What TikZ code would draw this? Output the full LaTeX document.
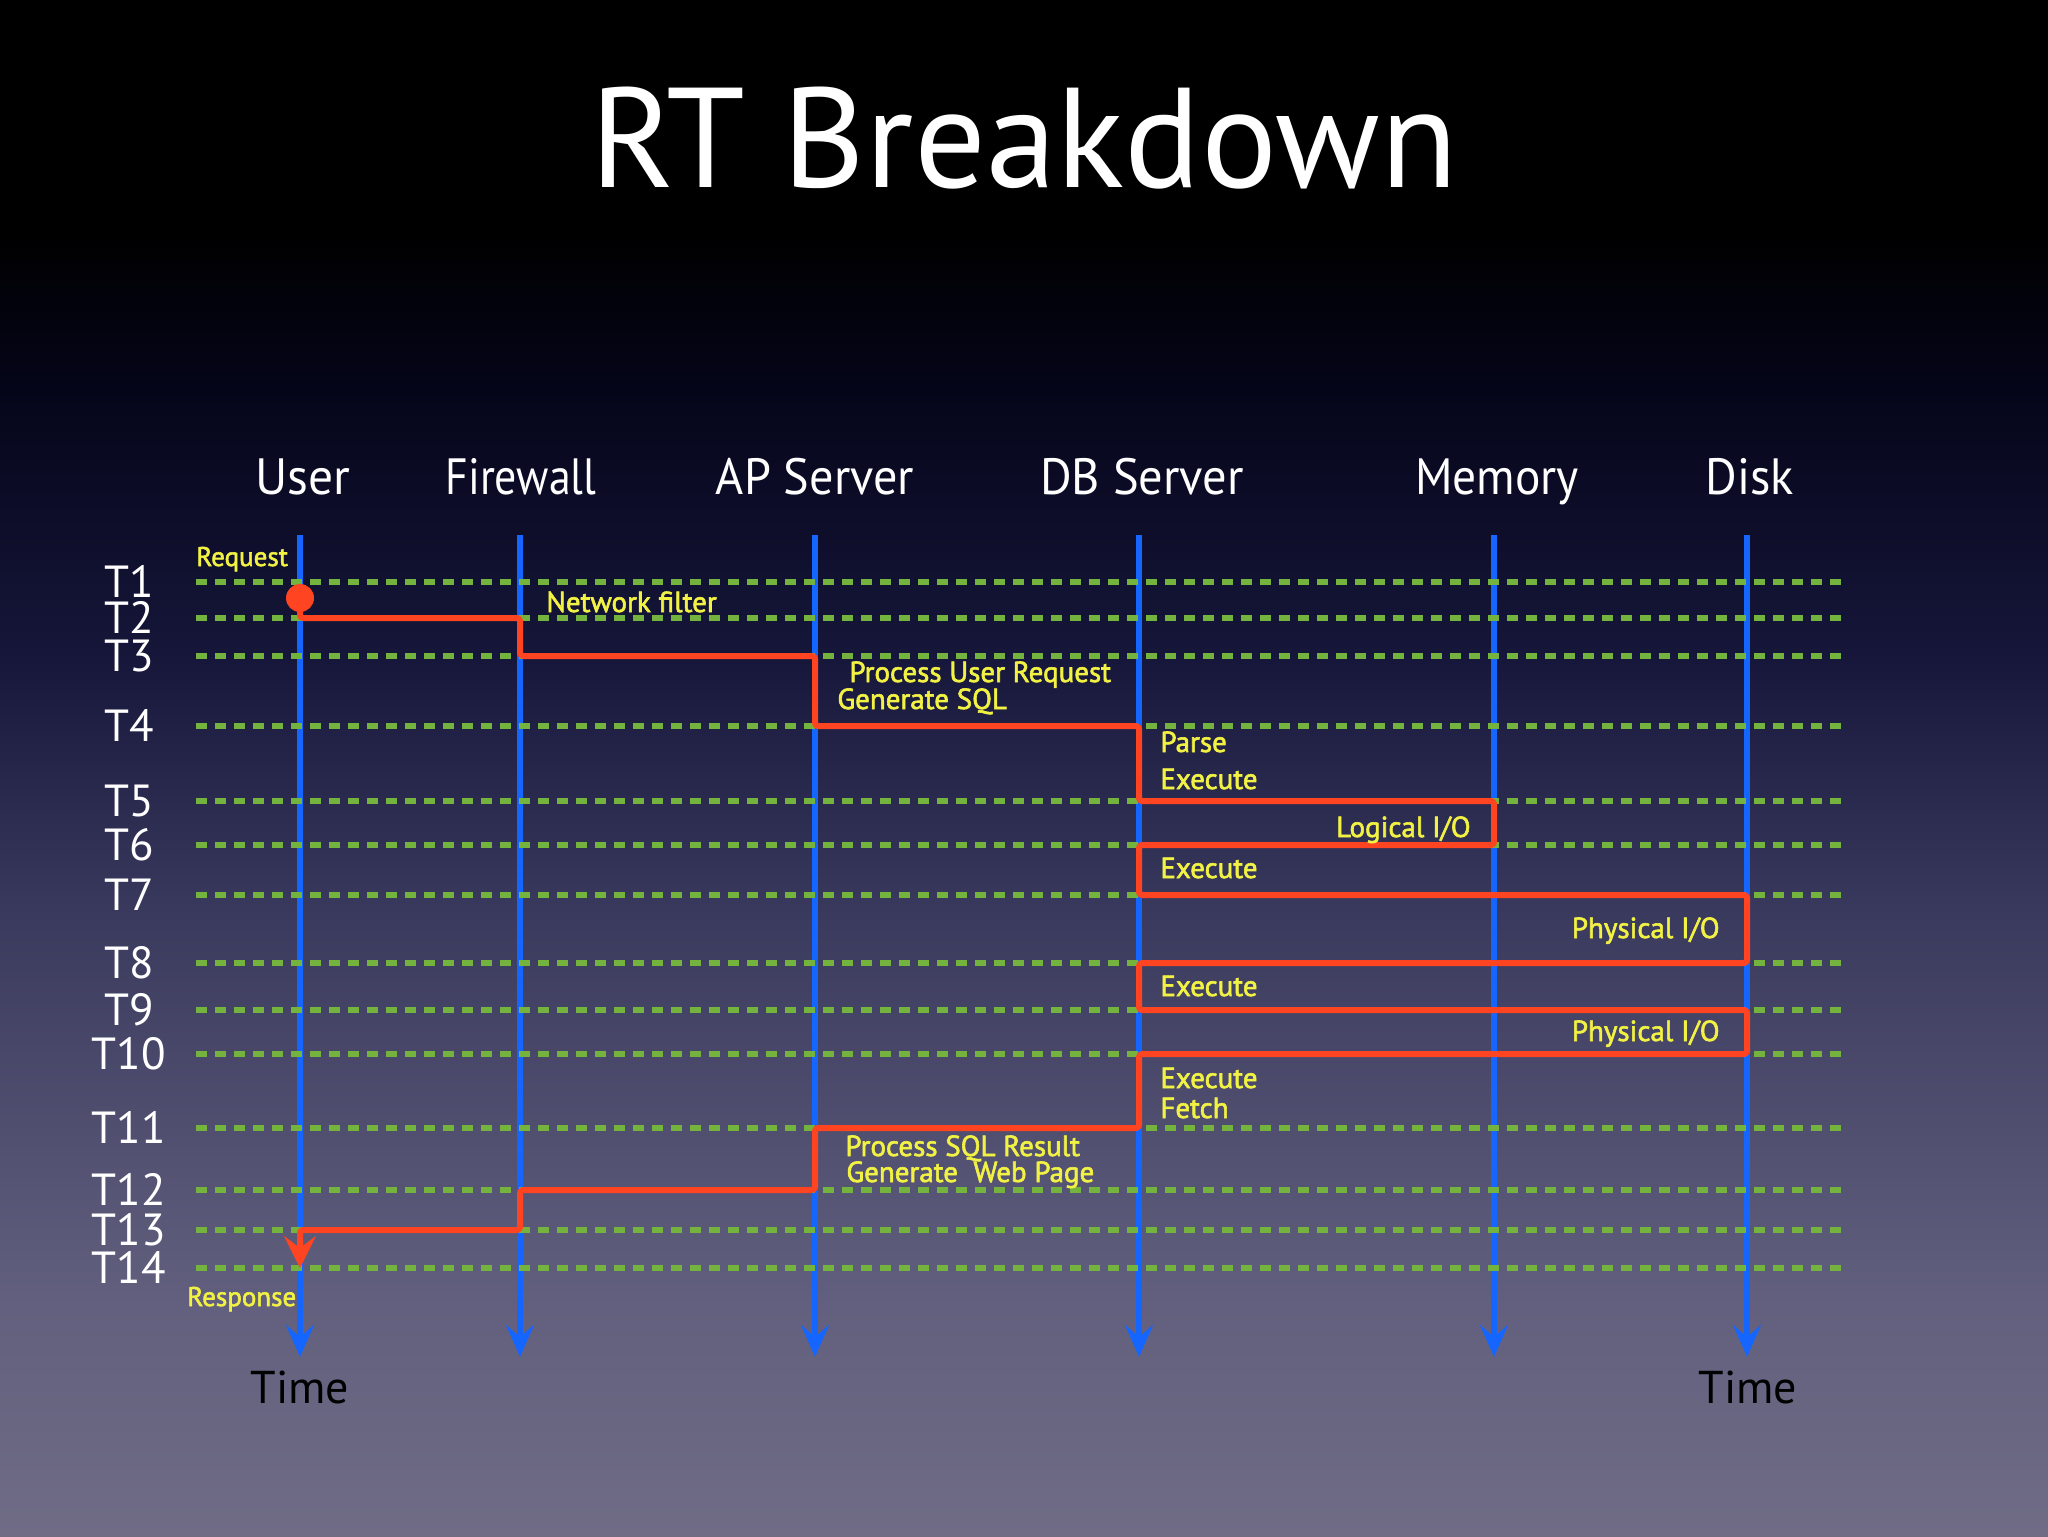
\documentclass[tikz,border=0pt]{standalone}
\usepackage{fontspec}
\setmainfont{PT Sans}
\newfontfamily\yfont[FakeBold=2]{PT Sans}
\usetikzlibrary{arrows.meta}
\definecolor{bgA}{HTML}{05051A}
\definecolor{bgB}{HTML}{16163A}
\definecolor{bgC}{HTML}{3A3A5E}
\definecolor{bgD}{HTML}{62607E}
\definecolor{bgE}{HTML}{706C86}
\definecolor{laneblue}{HTML}{1466FF}
\definecolor{gridgreen}{HTML}{74B43E}
\definecolor{pathred}{HTML}{FF4422}
\definecolor{lblyellow}{HTML}{F2F244}
\newcommand{\hs}[2]{\scalebox{#1}[1]{#2}}
\tikzset{
  lane/.style={draw=laneblue, line width=3pt, -{Stealth[length=16pt,width=14pt,inset=6pt]}},
  gridline/.style={draw=gridgreen, line width=2.9pt, dash pattern=on 5.5pt off 4pt},
  flow/.style={draw=pathred, line width=3pt, rounded corners=1.5pt, line join=round,
     -{Stealth[length=16pt,width=16pt,inset=6pt]}},
  colhead/.style={text=white, font=\fontsize{25.5}{28}\selectfont, anchor=base, inner sep=0pt},
  tlabel/.style={text=white, font=\fontsize{22.5}{24}\selectfont, anchor=center, inner sep=0pt,
     text height=15.6pt, text depth=0pt},
  steplabel/.style={text=lblyellow, font=\yfont\fontsize{14.5}{16}\selectfont, inner sep=0pt},
  smallstep/.style={steplabel, font=\yfont\fontsize{13.5}{15}\selectfont},
  timelabel/.style={text=black, font=\fontsize{23}{26}\selectfont, anchor=base, inner sep=0pt},
}
\begin{document}
\begin{tikzpicture}[x=0.5pt,y=-0.5pt]
% background
\useasboundingbox (0,0) rectangle (2048,1536);
\fill[black] (0,-1) rectangle (2048,231);
\shade[top color=black, bottom color=bgA] (0,230) rectangle (2048,393);
\shade[top color=bgA, bottom color=bgB] (0,392) rectangle (2048,654);
\shade[top color=bgB, bottom color=bgC] (0,653) rectangle (2048,915);
\shade[top color=bgC, bottom color=bgD] (0,914) rectangle (2048,1307);
\shade[top color=bgD, bottom color=bgE] (0,1306) rectangle (2048,1537);

% title
\node[text=white, font=\fontsize{71}{78}\selectfont, anchor=base, inner sep=0pt] (title) at (1024,187) {RT Breakdown};

% column headings
\node[colhead] (hUser) at (303,494) {\hs{0.97}{User}};
\node[colhead] (hFw)   at (521,494) {\hs{0.86}{Firewall}};
\node[colhead] (hAp)   at (815,494) {\hs{0.945}{AP Server}};
\node[colhead] (hDb)   at (1142,494) {\hs{0.95}{DB Server}};
\node[colhead] (hMem)  at (1497,494) {\hs{0.93}{Memory}};
\node[colhead] (hDisk) at (1750,494) {\hs{0.95}{Disk}};

% lane coordinates
\coordinate (uT) at (300,535);  \coordinate (uB) at (300,1357);
\coordinate (fT) at (520,535);  \coordinate (fB) at (520,1357);
\coordinate (aT) at (815,535);  \coordinate (aB) at (815,1357);
\coordinate (dT) at (1139,535); \coordinate (dB) at (1139,1357);
\coordinate (mT) at (1494,535); \coordinate (mB) at (1494,1357);
\coordinate (kT) at (1747,535); \coordinate (kB) at (1747,1357);

\draw[lane] (uT) -- (uB);
\draw[lane] (fT) -- (fB);
\draw[lane] (aT) -- (aB);
\draw[lane] (dT) -- (dB);
\draw[lane] (mT) -- (mB);
\draw[lane] (kT) -- (kB);

% time grid
\foreach \i/\y in {1/582,2/618,3/656,4/726,5/801,6/845,7/895,8/963,9/1010,10/1054,11/1128,12/1190,13/1230,14/1268}{
  \coordinate (L\i) at (196,\y);
  \coordinate (R\i) at (1841,\y);
  \draw[gridline] (L\i) -- (R\i);
  \node[tlabel] (T\i) at (129,\y) {T\i};
}

% request/response flow
\coordinate (start) at (300,598);
\fill[pathred] (start) circle[radius=14];
\draw[flow] (start) -- (uT |- L2) -- (fT |- L2) -- (fT |- L3) -- (aT |- L3) -- (aT |- L4)
  -- (dT |- L4) -- (dT |- L5) -- (mT |- L5) -- (mT |- L6) -- (dT |- L6) -- (dT |- L7)
  -- (kT |- L7) -- (kT |- L8) -- (dT |- L8) -- (dT |- L9) -- (kT |- L9) -- (kT |- L10)
  -- (dT |- L10) -- (dT |- L11) -- (aT |- L11) -- (aT |- L12) -- (fT |- L12) -- (fT |- L13)
  -- (uT |- L13) -- (uT |- L14);

% step labels
\node[smallstep, anchor=base west] (sReq) at (196,566) {Request};
\node[steplabel, anchor=base west] (sNet) at (546,612) {Network filter};
\node[steplabel, anchor=base west] (sPur) at (849,682) {Process User Request};
\node[steplabel, anchor=base west] (sGen) at (837,709) {Generate SQL};
\node[steplabel, anchor=base west] (sPar) at (1160,752) {Parse};
\node[steplabel, anchor=base west] (sEx1) at (1160,789) {Execute};
\node[steplabel, anchor=base east] (sLio) at (1471,837) {Logical I/O};
\node[steplabel, anchor=base west] (sEx2) at (1160,878) {Execute};
\node[steplabel, anchor=base east] (sPio1) at (1720,938) {Physical I/O};
\node[steplabel, anchor=base west] (sEx3) at (1160,996) {Execute};
\node[steplabel, anchor=base east] (sPio2) at (1720,1041) {Physical I/O};
\node[steplabel, anchor=base west] (sEx4) at (1160,1088) {Execute};
\node[steplabel, anchor=base west] (sFet) at (1160,1118) {Fetch};
\node[steplabel, anchor=base west] (sPsr) at (845,1156) {Process SQL Result};
\node[steplabel, anchor=base west] (sGwp) at (846,1182) {Generate\ \ Web Page};
\node[smallstep, anchor=base west] (sResp) at (187,1306) {Response};

% time labels
\node[timelabel] (timeL) at (300,1403) {Time};
\node[timelabel] (timeR) at (1748,1403) {Time};
\end{tikzpicture}
\end{document}
